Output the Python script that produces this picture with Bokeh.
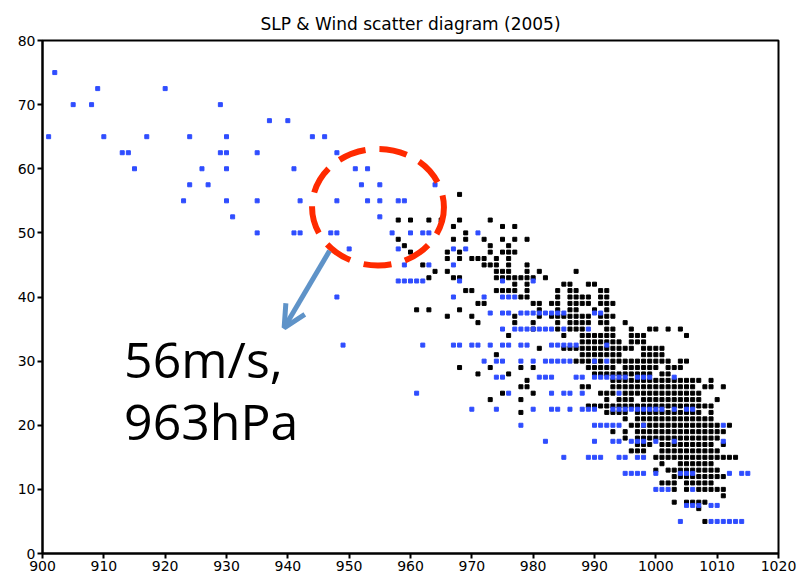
from bokeh.plotting import figure
from bokeh.models import Range1d, Arrow, OpenHead, Label, FixedTicker, ColumnDataSource
from bokeh.embed import file_html
from bokeh.resources import INLINE

# ---- data (SLP in hPa, wind in m/s) ----
x_ticks = [900, 910, 920, 930, 940, 950, 960, 970, 980, 990, 1000, 1010, 1020]
y_ticks = [0, 10, 20, 30, 40, 50, 60, 70, 80]

blue_rows_w = [77.5, 75, 72.5, 70, 67.5, 65, 62.5, 60, 57.5, 55, 52.5, 50, 47.5, 45,
               42.5, 40, 37.5, 35, 32.5, 30, 27.5, 25, 22.5, 20, 17.5, 15, 12.5, 10, 7.5, 5]
blue_rows_p = [
    [897],
    [897, 902],
    [909, 920],
    [905, 908, 929],
    [937, 940],
    [901, 910, 917, 924, 930, 944, 946],
    [913, 914, 929, 930, 935, 948],
    [915, 926, 930, 941, 951, 953],
    [924, 927, 952, 955, 964],
    [923, 930, 935, 942, 948, 953, 955, 958, 959],
    [931, 955],
    [935, 941, 942, 947, 948, 957, 960, 962, 963, 971],
    [950, 958, 967, 969],
    [959, 963, 967],
    [958, 959, 960, 961, 962, 968, 975, 980],
    [948, 967, 972, 975, 976, 977],
    [973, 975, 976, 978, 979, 980, 981, 982, 983, 984, 985, 990, 991],
    [975, 977, 978, 979, 980, 981, 982, 983, 985, 989],
    [949, 962, 967, 968, 970, 971, 973, 975, 976, 978, 979, 983, 984, 985, 986, 987, 992],
    [972, 974, 975, 978, 980, 982, 983, 984, 985, 986, 990, 992],
    [974, 975, 981, 982, 983, 987, 988, 990, 991, 992, 993, 994, 995, 997, 998, 999, 1003],
    [961, 976, 983, 985, 986, 988, 994],
    [970, 974, 980, 983, 984, 986, 988, 989, 990, 993, 994, 995, 996, 997, 998, 999, 1000,
     1001, 1003, 1005, 1006],
    [978, 990, 991, 992, 993, 994, 998, 1011],
    [982, 990, 993, 994, 996, 997, 998, 1000, 1003, 1011],
    [985, 989, 990, 991, 994, 995, 997, 998],
    [995, 996, 997, 998, 1000, 1004, 1005, 1006, 1012, 1014, 1015],
    [1000, 1001, 1002, 1006],
    [1005, 1006, 1007, 1009, 1010],
    [1004, 1009, 1010, 1011, 1012, 1013, 1014],
]

black_rows_w = [56, 52, 51, 50, 49, 48, 47, 46, 45, 44, 43, 42, 41, 40, 39, 38, 37, 36, 35,
                34, 33, 32, 31, 30, 29, 28, 27, 26, 25, 24, 23, 22, 21, 20, 19, 18, 17, 16,
                15, 14, 13, 12, 11, 10, 9, 8, 7, 5]
black_rows_p = [
    [968],
    [958, 960, 963, 965, 968, 973],
    [967, 975, 977],
    [969],
    [958, 967, 969, 972, 975, 977, 979],
    [959, 973, 976],
    [960, 966, 968, 973, 975, 976, 977],
    [966, 968, 970, 971, 972, 974, 976],
    [962, 972, 973, 974, 976, 979],
    [964, 966, 974, 975, 976, 979, 981, 987],
    [963, 967, 968, 974, 975, 976, 977, 978, 979, 980, 982],
    [977, 979, 985, 986, 989, 990],
    [969, 970, 974, 975, 976, 977, 979, 984, 986, 987, 991, 992],
    [978, 979, 984, 986, 987, 988, 989, 991, 992],
    [971, 972, 980, 981, 983, 984, 986, 987, 988, 989, 991, 992, 993],
    [961, 963, 968, 981, 984, 986, 987, 990, 992],
    [966, 970, 977, 981, 983, 984, 985, 986, 987, 988, 989, 991, 992, 993],
    [971, 977, 980, 984, 986, 987, 988, 989, 991, 992, 995],
    [980, 984, 986, 987, 988, 992, 993, 996, 999, 1000, 1002, 1004],
    [976, 985, 988, 989, 990, 991, 992, 993, 996, 997, 998, 1005],
    [988, 989, 990, 991, 992, 993, 994, 996, 997, 998],
    [981, 985, 986, 987, 988, 989, 990, 991, 992, 993, 994, 995, 996, 998, 999, 1000, 1001],
    [974, 988, 989, 990, 991, 992, 993, 994, 998, 999, 1000, 1001],
    [987, 988, 989, 990, 991, 993, 994, 995, 996, 997, 998, 999, 1000, 1001, 1002, 1004, 1005],
    [968, 973, 978, 980, 989, 990, 991, 992, 993, 995, 996, 997, 998, 999, 1000, 1002, 1003, 1004],
    [971, 976, 990, 991, 992, 993, 994, 995, 996, 997, 998, 999, 1001, 1002],
    [979, 993, 994, 995, 996, 997, 998, 999, 1000, 1001, 1002, 1003, 1004, 1005, 1006, 1007, 1009],
    [978, 979, 988, 989, 993, 994, 995, 996, 997, 998, 999, 1000, 1001, 1002, 1003, 1004, 1005,
     1006, 1008, 1009, 1011],
    [975, 980, 991, 992, 993, 995, 996, 997, 998, 999, 1000, 1001, 1002, 1003, 1004, 1005, 1006, 1007],
    [973, 978, 992, 994, 995, 996, 998, 999, 1000, 1001, 1002, 1003, 1004, 1005, 1006, 1007, 1010],
    [989, 990, 991, 992, 993, 994, 995, 996, 997, 998, 999, 1000, 1001, 1002, 1003, 1004, 1005,
     1006, 1007, 1008, 1009],
    [978, 992, 993, 994, 995, 997, 998, 999, 1000, 1001, 1002, 1003, 1004, 1005, 1006, 1007, 1009],
    [995, 997, 998, 999, 1000, 1001, 1002, 1003, 1004, 1005, 1006, 1007, 1008, 1009],
    [996, 997, 998, 999, 1000, 1001, 1002, 1003, 1004, 1005, 1006, 1007, 1008, 1009, 1010, 1012],
    [993, 995, 997, 998, 999, 1000, 1001, 1002, 1003, 1004, 1005, 1006, 1007, 1008, 1009, 1010, 1011],
    [995, 997, 998, 999, 1000, 1001, 1002, 1003, 1004, 1005, 1006, 1007, 1008, 1009, 1010],
    [997, 998, 999, 1001, 1002, 1003, 1004, 1005, 1006, 1007, 1008, 1009, 1011],
    [996, 997, 998, 1001, 1002, 1003, 1004, 1005, 1006, 1007, 1008, 1009, 1010],
    [1000, 1001, 1002, 1003, 1004, 1005, 1006, 1007, 1008, 1009, 1010, 1011, 1012, 1013],
    [1001, 1004, 1005, 1006, 1007, 1008, 1009],
    [1000, 1002, 1003, 1004, 1005, 1006, 1007, 1008, 1009, 1010],
    [1003, 1004, 1005, 1006, 1007, 1008, 1009, 1010, 1011],
    [1001, 1002, 1003, 1005, 1006, 1007, 1008, 1009],
    [1003, 1005, 1007, 1008, 1009, 1010, 1011],
    [1011],
    [1003, 1005, 1006, 1007, 1008],
    [1007],
    [1008],
]

# annotation (highlighted storm)
mark_p, mark_w = 954.7, 54.0
note_lines = ["56m/s,", "963hPa"]


def flatten(rows_w, rows_p):
    xs, ys = [], []
    for w, ps in zip(rows_w, rows_p):
        for pv in ps:
            xs.append(pv)
            ys.append(w)
    return xs, ys


bx, by = flatten(black_rows_w, black_rows_p)
ux, uy = flatten(blue_rows_w, blue_rows_p)

p = figure(width=798, height=580, output_backend="svg", toolbar_location=None,
           x_range=Range1d(900, 1020), y_range=Range1d(0, 80),
           min_border_left=42, min_border_right=20, min_border_top=40, min_border_bottom=27,
           title="SLP & Wind scatter diagram (2005)")

p.title.align = "center"
p.title.text_font = "DejaVu Sans"
p.title.text_font_size = "17px"
p.title.text_font_style = "normal"
p.title.text_color = "black"
p.title.standoff = 14

p.grid.visible = False
p.outline_line_color = "black"
p.outline_line_width = 2
p.background_fill_color = "white"
p.border_fill_color = "white"

for ax in (p.xaxis[0], p.yaxis[0]):
    ax.axis_line_width = 2
    ax.axis_line_color = "black"
    ax.major_tick_line_width = 2
    ax.major_tick_out = 5
    ax.major_tick_in = 0
    ax.minor_tick_out = 0
    ax.minor_tick_in = 0
    ax.major_label_text_font = "DejaVu Sans"
    ax.major_label_text_font_size = "14px"
    ax.major_label_text_color = "black"
    ax.major_label_standoff = 2

p.xaxis.ticker = FixedTicker(ticks=x_ticks)
p.yaxis.ticker = FixedTicker(ticks=y_ticks)

src_black = ColumnDataSource(dict(x=bx, y=by))
src_blue = ColumnDataSource(dict(x=ux, y=uy))
p.scatter("x", "y", source=src_black, marker="square", size=4, color="black")
p.scatter("x", "y", source=src_blue, marker="square", size=4, color="#2f4dff")

p.ellipse(x=[mark_p], y=[mark_w], width=21.5, height=18.2, fill_alpha=0,
          line_color="#ff2a00", line_width=6, line_dash="28 14")

arrow_color = "#5f93c8"
p.add_layout(Arrow(end=OpenHead(size=22, line_color=arrow_color, line_width=5),
                   x_start=946.8, y_start=47.2, x_end=939.4, y_end=35.2,
                   line_color=arrow_color, line_width=5))

p.add_layout(Label(x=913.3, y=30.4, text=note_lines[0], text_font="Open Sans",
                   text_font_size="50px", text_color="black", text_baseline="alphabetic"))
p.add_layout(Label(x=913.3, y=20.6, text=note_lines[1], text_font="Open Sans",
                   text_font_size="50px", text_color="black", text_baseline="alphabetic"))

open("out.html", "w").write(file_html(p, INLINE))
